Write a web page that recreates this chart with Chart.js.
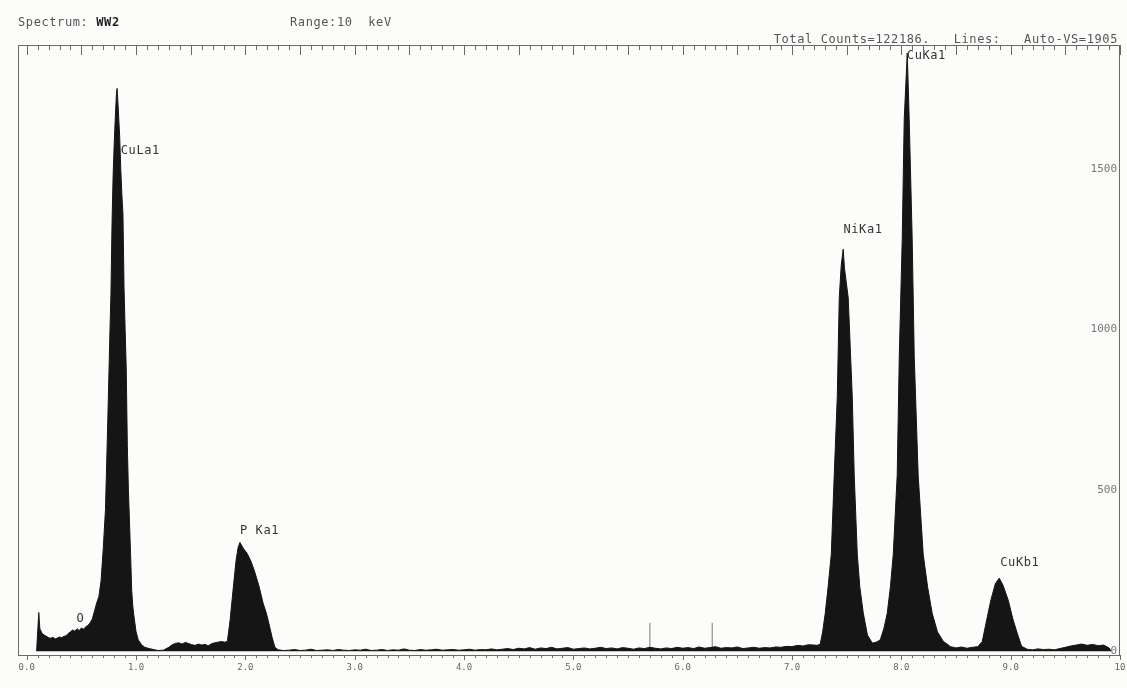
<!DOCTYPE html>
<html>
<head>
<meta charset="utf-8">
<script src="https://cdn.jsdelivr.net/npm/chart.js@4.4.0/dist/chart.umd.min.js"></script>
<style>
  body { margin: 0; background: #fcfcfa; }
  #wrap { position: relative; width: 1127px; height: 688px; }
  .hdr {
    position: absolute;
    font: 12px "DejaVu Sans Mono", monospace;
    color: #555;
    letter-spacing: 0.6px;
    white-space: pre;
    line-height: 14px;
  }
  .hdr b { color: #222; }
</style>
</head>
<body>
<div id="wrap">
  <canvas id="spectrum"></canvas>
  <div class="hdr" style="left:18px; top:15px;">Spectrum: <b>WW2</b></div>
  <div class="hdr" style="left:290px; top:15px;">Range:10  keV</div>
  <div class="hdr" style="right:9px; top:32px;">Total Counts=122186.   Lines:   Auto-VS=1905</div>
</div>
<script>
// spectrum (keV / counts)
const energies = [
  0.09, 0.10, 0.11, 0.12, 0.14, 0.16, 0.18, 0.20, 0.22, 0.24,
  0.26, 0.28, 0.30, 0.32, 0.34, 0.36, 0.38, 0.40, 0.42, 0.44,
  0.46, 0.48, 0.50, 0.52, 0.54, 0.56, 0.58, 0.60, 0.62, 0.64,
  0.66, 0.68, 0.70, 0.72, 0.74, 0.76, 0.77, 0.78, 0.79, 0.80,
  0.81, 0.82, 0.826, 0.835, 0.85, 0.86, 0.87, 0.88, 0.89, 0.90,
  0.91, 0.92, 0.93, 0.94, 0.95, 0.96, 0.97, 0.98, 1.00, 1.02,
  1.05, 1.08, 1.12, 1.16, 1.20, 1.25, 1.30, 1.33, 1.36, 1.39,
  1.42, 1.45, 1.48, 1.51, 1.54, 1.57, 1.60, 1.63, 1.66, 1.69,
  1.72, 1.75, 1.78, 1.81, 1.835, 1.86, 1.89, 1.915, 1.934, 1.95,
  1.98, 2.016, 2.05, 2.08, 2.10, 2.126, 2.162, 2.19, 2.208, 2.244,
  2.27,
  2.30, 2.35, 2.40, 2.45, 2.50, 2.55, 2.60, 2.65, 2.70, 2.75,
  2.80, 2.85, 2.90, 2.95, 3.00, 3.05, 3.10, 3.15, 3.20, 3.25,
  3.30, 3.35, 3.40, 3.45, 3.50, 3.55, 3.60, 3.65, 3.70, 3.75,
  3.80, 3.85, 3.90, 3.95, 4.00, 4.05, 4.10, 4.15, 4.20, 4.25,
  4.30, 4.35, 4.40, 4.45, 4.50, 4.55, 4.60, 4.65, 4.70, 4.75,
  4.80, 4.85, 4.90, 4.95, 5.00, 5.05, 5.10, 5.15, 5.20, 5.25,
  5.30, 5.35, 5.40, 5.45, 5.50, 5.55, 5.60, 5.65, 5.70, 5.75,
  5.80, 5.85, 5.90, 5.95, 6.00, 6.05, 6.10, 6.15, 6.20, 6.25,
  6.30, 6.35, 6.40, 6.45, 6.50, 6.55, 6.60, 6.65, 6.70, 6.75,
  6.80, 6.85, 6.90, 6.95, 7.00, 7.05, 7.10, 7.15, 7.20,
  7.23, 7.258, 7.28, 7.304, 7.33, 7.359, 7.386, 7.414, 7.432, 7.45,
  7.468, 7.48, 7.514, 7.551, 7.569, 7.597, 7.62, 7.652, 7.69, 7.734,
  7.77, 7.807, 7.84, 7.871, 7.90, 7.926, 7.962, 7.981, 8.008, 8.026,
  8.054, 8.072, 8.099, 8.118, 8.154, 8.20, 8.24, 8.282, 8.33, 8.383,
  8.45, 8.50, 8.55, 8.60, 8.65, 8.70, 8.74, 8.786, 8.82, 8.86,
  8.895, 8.93, 8.978, 9.02, 9.06, 9.10, 9.15, 9.20, 9.25, 9.30,
  9.35, 9.40, 9.45, 9.50, 9.55, 9.60, 9.65, 9.70, 9.75, 9.80,
  9.85, 9.90, 9.92
];
const counts = [
  0, 60, 120, 70, 55, 50, 46, 42, 40, 43,
  38, 41, 44, 42, 46, 48, 55, 60, 66, 62,
  70, 64, 72, 68, 76, 80, 88, 100, 125, 150,
  170, 220, 320, 440, 700, 980, 1110, 1330, 1480, 1580,
  1660, 1730, 1750, 1700, 1600, 1500, 1420, 1360, 1130, 1000,
  880, 640, 500, 400, 300, 190, 140, 110, 60, 35,
  20, 12, 8, 5, 2, 3, 12, 20, 24, 26,
  22, 27, 24, 20, 18, 22, 19, 21, 17, 23,
  26, 28, 30, 28, 30, 96, 200, 283, 323, 338,
  320, 304, 280, 252, 230, 200, 149, 120, 96, 43,
  12,
  4, 2, 3, 5, 2, 3, 6, 2, 3, 4,
  2, 5, 3, 2, 4, 3, 6, 2, 3, 5,
  2, 4, 3, 7, 3, 2, 5, 3, 4, 6,
  3, 4, 5, 3, 4, 6, 3, 5, 4, 7,
  4, 6, 8, 5, 9, 7, 11, 6, 10, 8,
  12, 7, 9, 11, 6, 8, 10, 7, 9, 12,
  8, 10, 7, 11, 9, 6, 10, 8, 12, 9,
  7, 10, 8, 12, 9, 11, 8, 13, 9, 11,
  14, 9, 11, 10, 13, 8, 10, 12, 9, 11,
  10, 13, 12, 15, 14, 18, 16, 20, 19,
  18, 22, 60, 118, 200, 301, 547, 792, 1099, 1200,
  1250, 1190, 1099, 792, 547, 301, 200, 118, 50, 25,
  28, 35, 70, 118, 200, 301, 547, 916, 1283, 1652,
  1860, 1652, 1283, 916, 547, 301, 200, 118, 60, 31,
  14, 10, 13, 9, 12, 14, 30, 106, 160, 210,
  227, 205, 158, 100, 56, 15, 6, 4, 7, 5,
  6, 4, 8, 12, 16, 19, 22, 18, 21, 17,
  19, 10, 0
];

// thin line markers
const markerEnergies = [5.70, 6.27];
const markerCounts = [88, 88];

const xTickValues = [0, 1, 2, 3, 4, 5, 6, 7, 8, 9, 10];
const xTickLabels = ["0.0", "1.0", "2.0", "3.0", "4.0", "5.0", "6.0", "7.0", "8.0", "9.0", "10"];
const yTickValues = [0, 500, 1000, 1500];
const yTickLabels = ["0", "500", "1000", "1500"];

// peak labels: left edge (keV) and middle height (counts)
const peakNames = ["CuLa1", "P Ka1", "NiKa1", "CuKa1", "CuKb1", "O"];
const peakEnergies = [0.86, 1.95, 7.47, 8.05, 8.905, 0.455];
const peakCounts = [1556, 373, 1311, 1851, 276, 99];

const spectrumPoints = energies.map((e, i) => ({ x: e, y: counts[i] }));
const markerPoints = [];
markerEnergies.forEach((e, i) => {
  markerPoints.push({ x: e, y: 0 }, { x: e, y: markerCounts[i] }, { x: e, y: null });
});

const framePlugin = {
  id: "frame",
  afterDraw(chart) {
    const { ctx, chartArea: a, scales } = chart;
    const x = scales.x;
    const y = scales.y;
    ctx.save();
    ctx.strokeStyle = "#6a6a6a";
    ctx.lineWidth = 1;
    ctx.strokeRect(a.left + 0.5, a.top + 0.5, a.right - a.left - 1, a.bottom - a.top);

    // ruler ticks along top and bottom
    ctx.beginPath();
    for (let k = 0; k <= 100; k++) {
      const px = Math.round(x.getPixelForValue(k / 10)) + 0.5;
      const len = k % 5 === 0 ? 10 : 5;
      ctx.moveTo(px, a.top);
      ctx.lineTo(px, a.top + len);
      ctx.moveTo(px, a.bottom);
      ctx.lineTo(px, a.bottom + (k % 10 === 0 ? 5 : 3));
    }
    ctx.stroke();

    // count labels inside the right edge
    ctx.fillStyle = "#777";
    ctx.font = '11px "DejaVu Sans Mono", monospace';
    ctx.textAlign = "right";
    ctx.textBaseline = "middle";
    yTickValues.forEach((v, i) => {
      ctx.fillText(yTickLabels[i], a.right - 3, y.getPixelForValue(v));
    });

    // peak labels
    ctx.fillStyle = "#333";
    ctx.font = '12px "DejaVu Sans Mono", monospace';
    ctx.letterSpacing = "0.6px";
    ctx.textAlign = "left";
    peakNames.forEach((t, i) => {
      ctx.fillText(t, x.getPixelForValue(peakEnergies[i]), y.getPixelForValue(peakCounts[i]));
    });
    ctx.restore();
  },
};

new Chart(document.querySelector("#spectrum"), {
  type: "line",
  data: {
    datasets: [
      {
        data: spectrumPoints,
        borderColor: "#151515",
        backgroundColor: "#151515",
        borderWidth: 1,
        fill: "origin",
        pointRadius: 0,
        tension: 0,
      },
      {
        data: markerPoints,
        borderColor: "#7a7a7a",
        borderWidth: 1,
        fill: false,
        pointRadius: 0,
        spanGaps: false,
      },
    ],
  },
  options: {
    responsive: true,
    maintainAspectRatio: false,
    animation: false,
    layout: { padding: { left: 18, top: 45, right: 0, bottom: 0 } },
    plugins: { legend: { display: false }, tooltip: { enabled: false } },
    scales: {
      x: {
        type: "linear",
        position: "bottom",
        min: -0.08,
        max: 10,
        afterBuildTicks: (scale) => {
          scale.ticks = xTickValues.map((v) => ({ value: v }));
        },
        afterFit: (scale) => {
          scale.height = 33;
          scale.paddingLeft = 0;
          scale.paddingRight = 0;
        },
        ticks: {
          autoSkip: false,
          maxRotation: 0,
          padding: 7,
          color: "#666",
          font: { family: "DejaVu Sans Mono", size: 9 },
          callback: (v, i) => xTickLabels[i],
        },
        grid: { drawOnChartArea: false, drawTicks: false },
        border: { display: false },
      },
      y: {
        position: "right",
        min: -12,
        max: 1885,
        afterBuildTicks: (scale) => {
          scale.ticks = yTickValues.map((v) => ({ value: v }));
        },
        afterFit: (scale) => {
          scale.width = 7;
        },
        ticks: { display: false },
        grid: { display: false },
        border: { display: false },
      },
    },
  },
  plugins: [framePlugin],
});
</script>
</body>
</html>
